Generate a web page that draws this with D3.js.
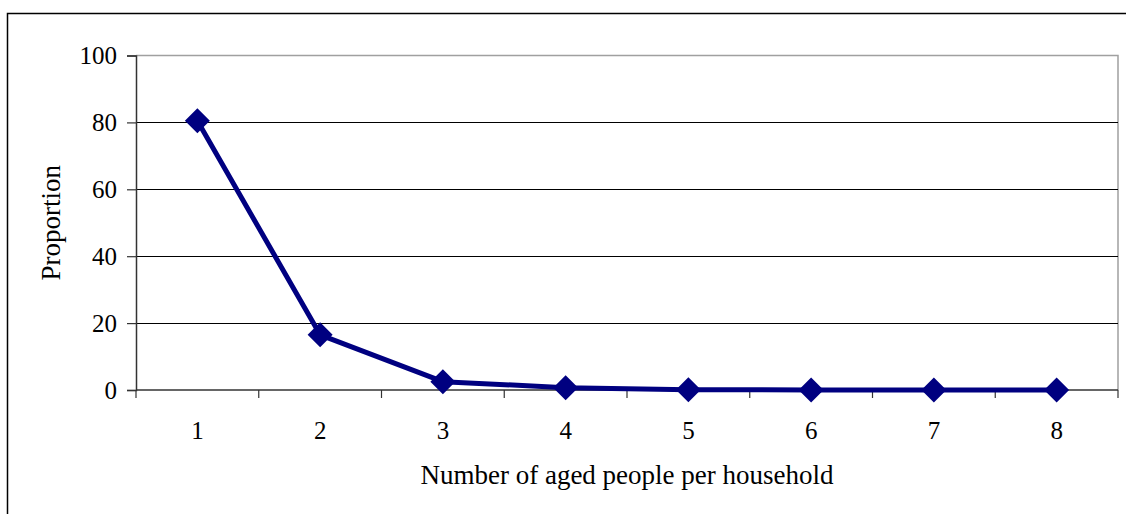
<!DOCTYPE html>
<html>
<head>
<meta charset="utf-8">
<script src="https://cdn.jsdelivr.net/npm/d3@7"></script>
<style>
  html, body { margin: 0; padding: 0; background: #fff; }
  svg { display: block; }
  text { font-family: "Liberation Serif", "Times New Roman", serif; fill: #000; }
</style>
</head>
<body>
<svg id="chart" width="1126" height="514"></svg>
<script>
// Share of households by number of aged members
const categories = ["1", "2", "3", "4", "5", "6", "7", "8"];
const proportion = [80.5, 16.5, 2.5, 0.7, 0.1, 0, 0, 0];
const yTicks = [0, 20, 40, 60, 80, 100];
const xTitle = "Number of aged people per household";
const yTitle = "Proportion";

const svg = d3.select("#chart");
const W = 1126, H = 514;
const plot = { left: 136, top: 55.5, right: 1118, bottom: 390 };

// outer chart frame
svg.append("path")
  .attr("d", `M7.5,${H} V13.5 H${W}`)
  .attr("fill", "none").attr("stroke", "#000").attr("stroke-width", 1.5);

const x = d3.scaleBand().domain(categories).range([plot.left, plot.right]);
const y = d3.scaleLinear().domain([0, 100]).range([plot.bottom, plot.top]);

// plot area border (top and right)
svg.append("path")
  .attr("d", `M${plot.left},${plot.top} H${plot.right} V${plot.bottom}`)
  .attr("fill", "none").attr("stroke", "#a0a0a0").attr("stroke-width", 1.5);

// horizontal gridlines
svg.append("g").selectAll("line")
  .data(yTicks.filter(d => d > 0 && d < 100))
  .join("line")
  .attr("x1", plot.left).attr("x2", plot.right)
  .attr("y1", d => Math.round(y(d)) + 0.5).attr("y2", d => Math.round(y(d)) + 0.5)
  .attr("stroke", "#000").attr("stroke-width", 1);

// y axis
const yAxis = svg.append("g")
  .attr("transform", `translate(${plot.left},0)`)
  .call(d3.axisLeft(y).tickValues(yTicks).tickSize(9).tickPadding(10));
yAxis.select(".domain").attr("stroke", "#333").attr("stroke-width", 1.5);
yAxis.selectAll(".tick line").attr("stroke", "#333").attr("stroke-width", 1.2);
yAxis.selectAll("text").style("font-size", "25px").attr("font-family", "Liberation Serif, serif");

// x axis: ticks sit between categories
const xAxisG = svg.append("g").attr("transform", `translate(0,${plot.bottom})`);
xAxisG.append("line")
  .attr("x1", plot.left).attr("x2", plot.right)
  .attr("stroke", "#333").attr("stroke-width", 1.5);
const bounds = categories.map(c => x(c)).concat([x(categories[categories.length - 1]) + x.bandwidth()]);
xAxisG.selectAll("line.tk").data(bounds).join("line")
  .attr("class", "tk")
  .attr("x1", d => d).attr("x2", d => d)
  .attr("y1", 0).attr("y2", 8)
  .attr("stroke", "#333").attr("stroke-width", 1.2);
xAxisG.selectAll("text").data(categories).join("text")
  .attr("x", d => x(d) + x.bandwidth() / 2)
  .attr("y", 49)
  .attr("text-anchor", "middle")
  .style("font-size", "25px")
  .text(d => d);

// axis titles
svg.append("text")
  .attr("x", (plot.left + plot.right) / 2).attr("y", 484)
  .attr("text-anchor", "middle").style("font-size", "27px")
  .text(xTitle);
svg.append("text")
  .attr("transform", `translate(60,${(plot.top + plot.bottom) / 2}) rotate(-90)`)
  .attr("text-anchor", "middle").style("font-size", "27px")
  .text(yTitle);

// series line
const cx = d => x(d) + x.bandwidth() / 2;
const line = d3.line().x((d, i) => cx(categories[i])).y(d => y(d));
svg.append("path")
  .datum(proportion)
  .attr("d", line)
  .attr("fill", "none").attr("stroke", "#000080").attr("stroke-width", 5)
  .attr("stroke-linejoin", "round");

// diamond markers
const diamond = d3.symbol().type(d3.symbolSquare).size(2 * 12.5 * 12.5);
svg.append("g").selectAll("path")
  .data(proportion)
  .join("path")
  .attr("d", diamond)
  .attr("transform", (d, i) => `translate(${cx(categories[i])},${y(d)}) rotate(45)`)
  .attr("fill", "#000080");
</script>
</body>
</html>
